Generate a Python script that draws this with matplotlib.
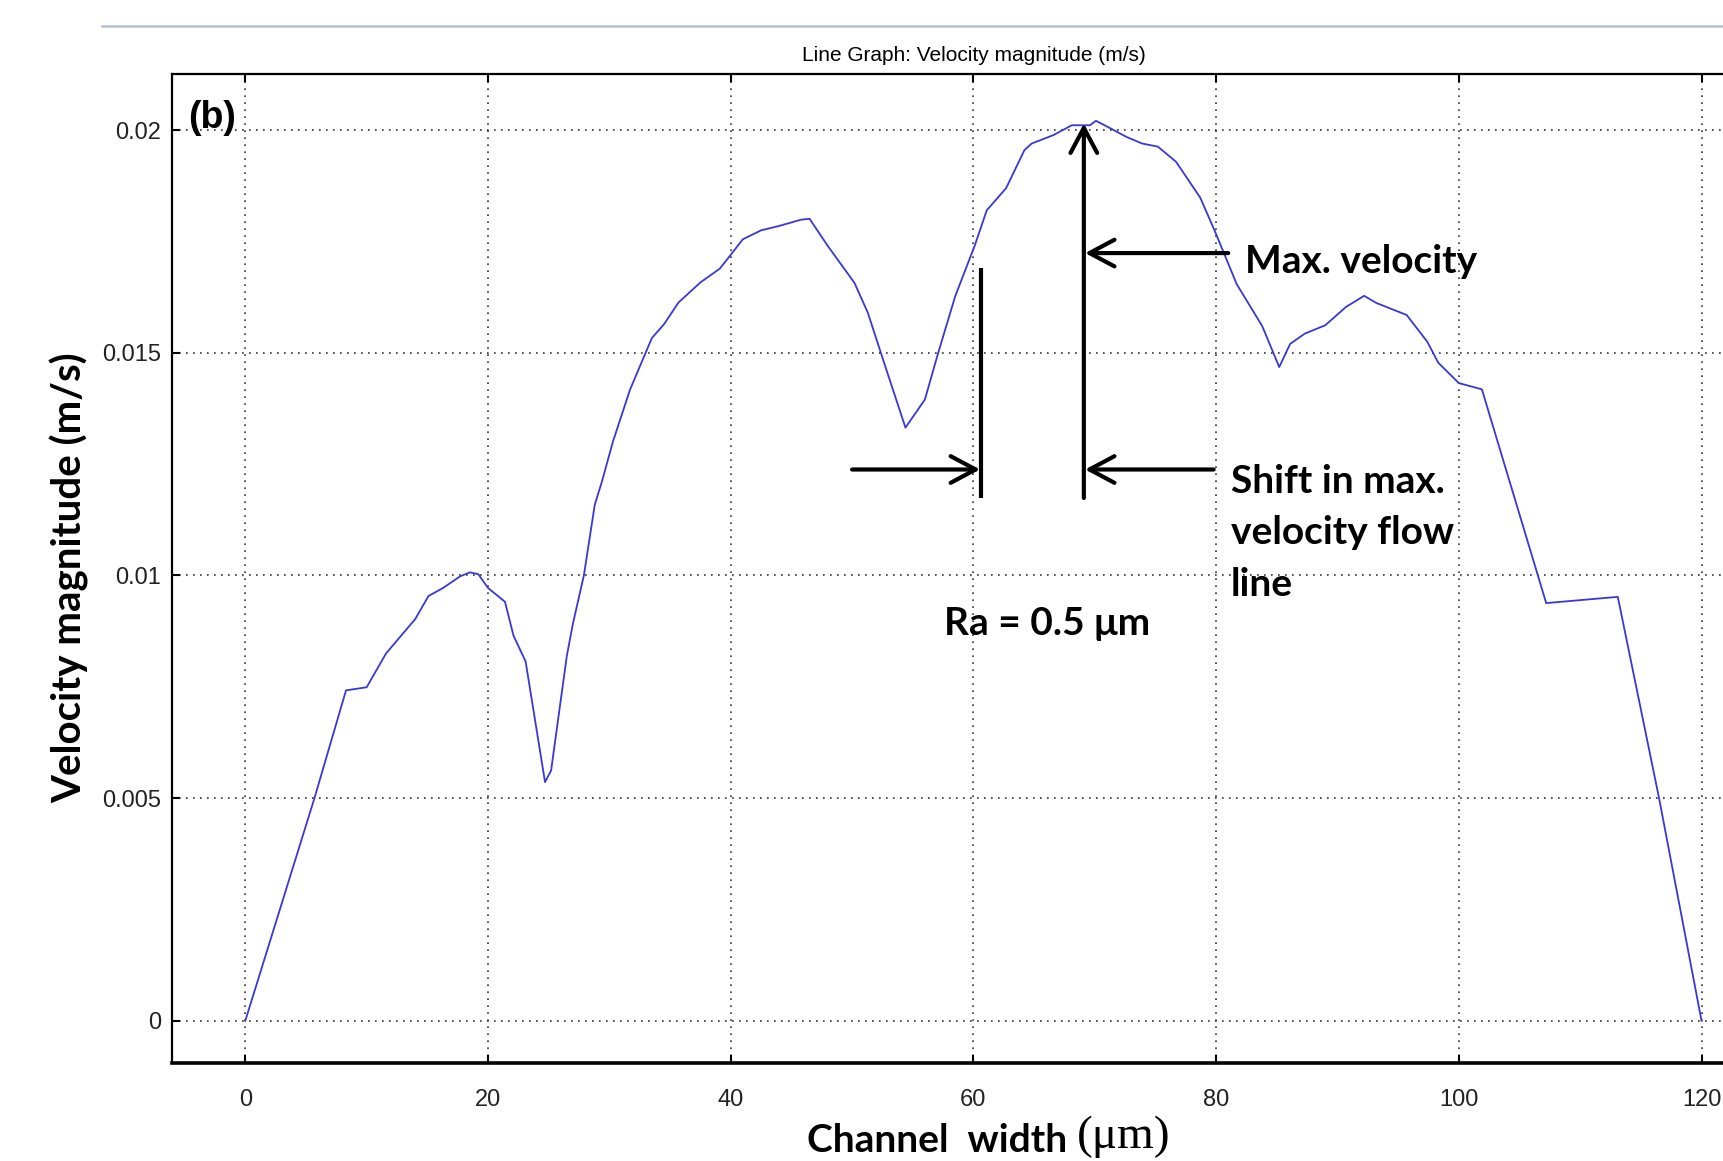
import matplotlib
matplotlib.use("Agg")
import matplotlib.pyplot as plt
from matplotlib import font_manager
from matplotlib.lines import Line2D

# velocity profile
width_um = [0, 5.7, 8.3, 10.0, 11.6, 14.0, 15.1, 16.3, 17.7, 18.5, 19.2, 20.0,
            21.4, 22.1, 23.1, 24.7, 25.2, 26.5, 27.0, 27.9, 28.8, 29.4, 30.3,
            31.7, 33.5, 34.5, 35.7, 37.5, 39.1, 40.0, 41.0, 42.5, 44.0, 45.8,
            46.5, 48.0, 50.2, 51.3, 52.6, 54.4, 56.0, 57.1, 58.5, 60.1, 61.1,
            62.7, 64.2, 64.8, 66.6, 68.1, 69.6, 70.1, 71.3, 72.6, 73.9, 75.2,
            76.7, 78.7, 79.9, 81.7, 83.8, 85.2, 86.1, 87.3, 89.0, 90.7, 92.2,
            93.2, 94.4, 95.7, 97.4, 98.3, 100.0, 101.9, 107.2, 113.1, 116.5, 120.0]
velocity = [0, 0.0050, 0.00742, 0.00749, 0.00825, 0.00902, 0.00954, 0.00972,
            0.00998, 0.01007, 0.01003, 0.00972, 0.00941, 0.00865, 0.00807,
            0.00536, 0.00562, 0.0082, 0.00892, 0.0100, 0.01159, 0.01212,
            0.01301, 0.01417, 0.01533, 0.01564, 0.01613, 0.01658, 0.01689,
            0.0172, 0.01755, 0.01775, 0.01785, 0.01799, 0.01801, 0.0174,
            0.01657, 0.0159, 0.01481, 0.01332, 0.01395, 0.015, 0.01627, 0.0174,
            0.0182, 0.0187, 0.01955, 0.0197, 0.01989, 0.02011, 0.02011, 0.02021,
            0.02004, 0.01985, 0.0197, 0.01963, 0.01929, 0.01848, 0.01773,
            0.01654, 0.0156, 0.01468, 0.0152, 0.01543, 0.01562, 0.01603,
            0.01628, 0.01612, 0.01599, 0.01585, 0.01525, 0.01478, 0.01432,
            0.01418, 0.00938, 0.00952, 0.005, 0]

xticks = [0, 20, 40, 60, 80, 100, 120]
yticks = [0, 0.005, 0.01, 0.015, 0.02]
ytick_labels = ['0', '0.005', '0.01', '0.015', '0.02']

names = {f.name for f in font_manager.fontManager.ttflist}
narrow = 'Liberation Sans Narrow' if 'Liberation Sans Narrow' in names else 'Liberation Sans'
bold_font = 'Lato'

fig = plt.figure(figsize=(17.23, 11.61), dpi=100)
ax = fig.add_axes([0.1001, 0.0847, 0.9297, 0.8519])

ax.plot(width_um, velocity, color='#3838d8', lw=1.3)

ax.set_xlim(-6, 126)
ax.set_ylim(-0.00094, 0.02127)
ax.set_xticks(xticks)
ax.set_xticklabels([str(t) for t in xticks])
ax.set_yticks(yticks)
ax.set_yticklabels(ytick_labels)
for lab in ax.get_xticklabels() + ax.get_yticklabels():
    lab.set_family(narrow)
    lab.set_fontsize(17)
    lab.set_color('#222222')
ax.tick_params(axis='x', direction='in', length=6, width=1.5, pad=19, top=True)
ax.tick_params(axis='y', direction='in', length=6, width=1.5, pad=8, right=True)
ax.grid(True, color='#333333', linestyle=(0, (1, 3.2)), lw=1.2)
for s in ax.spines.values():
    s.set_linewidth(1.6)
ax.spines['bottom'].set_linewidth(2.6)

ax.set_title('Line Graph: Velocity magnitude (m/s)', family=narrow, fontsize=15, pad=9)

# window frame line at the top
fig.add_artist(Line2D([102 / 1723, 1], [1 - 26 / 1161] * 2, color='#b4c0d0', lw=1.8))

# axis labels
fig.text(70 / 1723, 1 - 578 / 1161, 'Velocity magnitude (m/s)', rotation=90,
         ha='center', va='center', family=bold_font, weight='bold', fontsize=29)
t1 = fig.text(807 / 1723, 1 - 1152 / 1161, 'Channel  width ', ha='left', va='baseline',
              family=bold_font, weight='bold', fontsize=28)
ax.annotate('(\u03bcm)', xy=(1, 0), xycoords=t1, ha='left', va='bottom',
            family='Liberation Serif', fontsize=34)

# annotations
bold = dict(family=bold_font, weight='bold', fontsize=28, color='black')
ax.text(-4.7, 0.02004, '(b)', family=narrow, weight='bold', fontsize=27, va='baseline')
ax.text(82.4, 0.01679, 'Max. velocity', va='baseline', **bold)
ax.text(81.2, 0.01250, 'Shift in max.\nvelocity flow\nline', va='top', linespacing=1.56, **bold)
ax.text(57.6, 0.00866, 'Ra = 0.5 \u03bcm', va='baseline', **bold)

arrow = dict(arrowstyle='->,head_length=0.9,head_width=0.48', color='black', lw=3,
             mutation_scale=20, shrinkA=0, shrinkB=0)
ax.plot([60.65, 60.65], [0.01174, 0.0169], color='black', lw=3, solid_capstyle='butt')
ax.annotate('', xy=(69.1, 0.02015), xytext=(69.1, 0.01174), arrowprops=arrow)
ax.annotate('', xy=(69.2, 0.01724), xytext=(81.0, 0.01724), arrowprops=arrow)
ax.annotate('', xy=(60.55, 0.01238), xytext=(50.0, 0.01238), arrowprops=arrow)
ax.annotate('', xy=(69.2, 0.01238), xytext=(79.8, 0.01238), arrowprops=arrow)

fig.savefig('out.png', dpi=100)
